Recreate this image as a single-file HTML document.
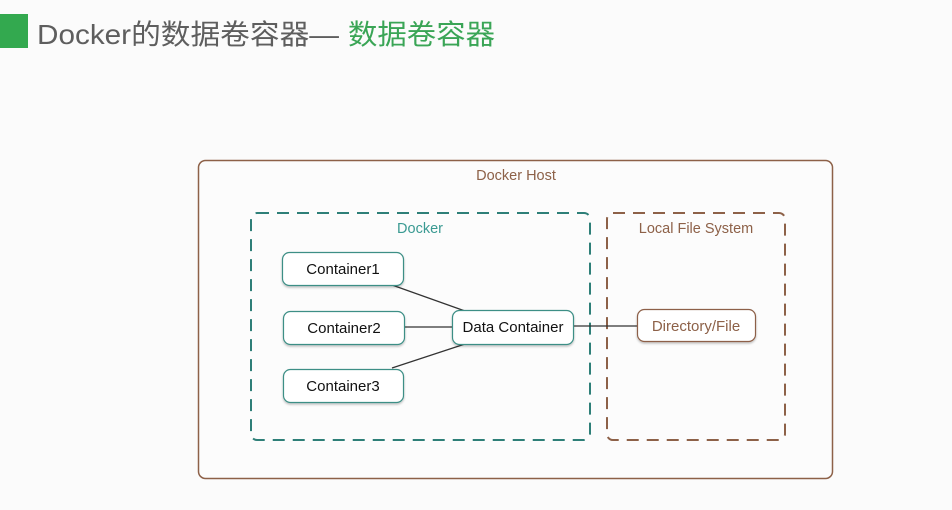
<!DOCTYPE html>
<html><head><meta charset="utf-8"><style>
html,body{margin:0;padding:0;background:#fbfbfb;width:952px;height:510px;overflow:hidden}
svg{display:block}
text{font-family:"Liberation Sans","Noto Sans CJK SC",sans-serif}
</style></head><body>
<svg width="952" height="510" viewBox="0 0 952 510" xmlns="http://www.w3.org/2000/svg">
<defs>
<filter id="sh" x="-10%" y="-20%" width="120%" height="150%"><feDropShadow dx="0" dy="1.5" stdDeviation="1" flood-color="#000" flood-opacity="0.25"/></filter>
</defs>
<rect x="0" y="14" width="28" height="34" fill="#33a94f"/>
<text x="37" y="44" font-size="28" fill="#5e5e5e" textLength="302" lengthAdjust="spacingAndGlyphs">Docker的数据卷容器—</text>
<text x="348" y="44" font-size="28" fill="#3aa556" textLength="147" lengthAdjust="spacingAndGlyphs">数据卷容器</text>

<rect x="198.5" y="160.5" width="634" height="318" rx="7" fill="#fcfcfc" stroke="#8d6148" stroke-width="1.5"/>
<text x="516" y="180" font-size="14.5" fill="#8d6148" text-anchor="middle">Docker Host</text>

<rect x="251" y="213" width="339" height="227" rx="6" fill="none" stroke="#2e7f78" stroke-width="2" stroke-dasharray="12,8"/>
<text x="420" y="233" font-size="14.5" fill="#3a9a92" text-anchor="middle">Docker</text>

<rect x="607" y="213" width="178" height="227" rx="6" fill="none" stroke="#8d6148" stroke-width="2" stroke-dasharray="12,8"/>
<text x="696" y="233" font-size="14.5" fill="#8d6148" text-anchor="middle">Local File System</text>

<g stroke="#333" stroke-width="1.2">
<line x1="392" y1="285" x2="465" y2="311"/>
<line x1="404" y1="327" x2="453" y2="327"/>
<line x1="392" y1="368" x2="465" y2="344"/>
<line x1="573" y1="326" x2="637" y2="326"/>
</g>

<g fill="#fff" stroke="#3e8f86" stroke-width="1.2" filter="url(#sh)">
<rect x="282.5" y="252.5" width="121" height="33" rx="7"/>
<rect x="283.5" y="311.5" width="121" height="33" rx="7"/>
<rect x="283.5" y="369.5" width="120" height="33" rx="7"/>
<rect x="452.5" y="310.5" width="121" height="34" rx="7"/>
</g>
<rect x="637.5" y="309.5" width="118" height="32" rx="7" fill="#fff" stroke="#8d6148" stroke-width="1.2" filter="url(#sh)"/>

<g font-size="15" fill="#111" text-anchor="middle">
<text x="343" y="274">Container1</text>
<text x="344" y="333">Container2</text>
<text x="343" y="391">Container3</text>
<text x="513" y="332">Data Container</text>
</g>
<text x="696" y="331" font-size="15" fill="#8d6148" text-anchor="middle">Directory/File</text>
</svg>
</body></html>
